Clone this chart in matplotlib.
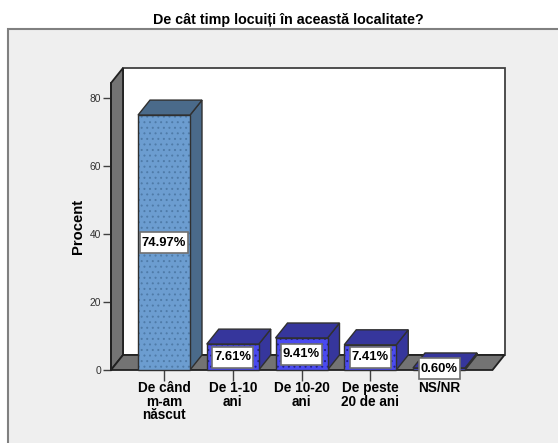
import numpy as np
import matplotlib
matplotlib.use("Agg")
import matplotlib.pyplot as plt
from matplotlib.patches import Rectangle

# --- data ---
CATEGORIES = ["De când\nm-am\nnăscut", "De 1-10\nani", "De 10-20\nani", "De peste\n20 de ani", "NS/NR"]
PERCENTS = [74.97, 7.61, 9.41, 7.41, 0.60]
Y_TICKS = [0, 20, 40, 60, 80]

# --- figure layout, in pixels of the 558x443 picture ---
W, H = 558, 443
AX_LEFT, AX_RIGHT = 111, 492.5
Y0_PX, Y80_PX = 370, 98
STEP_PX = 68.75
PX_PER_UNIT = (Y0_PX - Y80_PX) / 80
DEPTH_X = 12 / STEP_PX
DEPTH_Y = 15 / PX_PER_UNIT
BAR_W = 52 / STEP_PX
BOX_W = [48 / STEP_PX, 41 / STEP_PX, 41 / STEP_PX, 41 / STEP_PX, 41 / STEP_PX]
BOX_H = 21 / PX_PER_UNIT
EDGE = "#303030"
FONT_SIZE = 9.8

plt.rcParams["font.family"] = ["Liberation Sans", "DejaVu Sans"]
plt.rcParams["hatch.linewidth"] = 0.7

fig = plt.figure(figsize=(W / 100, H / 100), dpi=100, facecolor="white")

# grey chart panel, runs off the right and bottom of the picture
panel = Rectangle((8 / W, -20 / H), (W + 20) / W, (H - 29 + 20) / H, transform=fig.transFigure,
                  facecolor="#EFEFEF", edgecolor="#808080", linewidth=1.5, zorder=-1)
fig.add_artist(panel)

fig.text(288 / W, 1 - 20 / H, "De cât timp locuiți în această localitate?", ha="center", va="center",
         fontsize=10.25, fontweight="bold", color="black")

ax = fig.add_axes([AX_LEFT / W, 1 - Y0_PX / H, (AX_RIGHT - AX_LEFT) / W, (Y0_PX - 83) / H])
ax.patch.set_alpha(0)
first_center = 164
ax.set_xlim((AX_LEFT - first_center) / STEP_PX, (AX_RIGHT - first_center) / STEP_PX)
ax.set_ylim(0, (Y0_PX - 83) / PX_PER_UNIT)
x0, x1 = ax.get_xlim()
y1 = ax.get_ylim()[1]

# back wall, side wall and floor
ax.fill([x0 + DEPTH_X, x1 + DEPTH_X, x1 + DEPTH_X, x0 + DEPTH_X],
        [DEPTH_Y, DEPTH_Y, y1 + DEPTH_Y, y1 + DEPTH_Y],
        facecolor="white", edgecolor="#404040", linewidth=1.3, clip_on=False, zorder=1)
ax.fill([x0, x0 + DEPTH_X, x0 + DEPTH_X, x0], [0, DEPTH_Y, y1 + DEPTH_Y, y1],
        facecolor="#737373", edgecolor="#202020", linewidth=1.3, clip_on=False, zorder=2)
ax.fill([x0, x1, x1 + DEPTH_X, x0 + DEPTH_X], [0, 0, DEPTH_Y, DEPTH_Y],
        facecolor="#737373", edgecolor="#202020", linewidth=1.3, clip_on=False, zorder=2)

FRONT = ["#6C9DD0", "#4A4AF0", "#4A4AF0", "#4A4AF0", "#4A4AF0"]
SIDE = ["#4A6A8A", "#36369C", "#36369C", "#36369C", "#36369C"]
HATCH_COLOR = ["#4F7BA8", "#20208A", "#20208A", "#20208A", "#20208A"]

for i, val in enumerate(PERCENTS):
    l, r = i - BAR_W / 2, i + BAR_W / 2
    z = 3 + i
    ax.fill([r, r + DEPTH_X, r + DEPTH_X, r], [0, DEPTH_Y, val + DEPTH_Y, val],
            facecolor=SIDE[i], edgecolor=EDGE, linewidth=1.0, clip_on=False, zorder=z)
    ax.fill([l, r, r + DEPTH_X, l + DEPTH_X], [val, val, val + DEPTH_Y, val + DEPTH_Y],
            facecolor=SIDE[i], edgecolor=EDGE, linewidth=1.0, clip_on=False, zorder=z)
    ax.bar(i, val, BAR_W, color=FRONT[i], edgecolor=HATCH_COLOR[i], hatch="...", linewidth=0,
           clip_on=False, zorder=z)
    ax.bar(i, val, BAR_W, fill=False, edgecolor=EDGE, linewidth=1.0, clip_on=False, zorder=z)
    # value box, centred on the middle of the bar
    ax.add_patch(Rectangle((i - BOX_W[i] / 2, val / 2 - BOX_H / 2), BOX_W[i], BOX_H, facecolor="white",
                           edgecolor="#707070", linewidth=1.2, clip_on=False, zorder=19))
    ax.text(i, val / 2, f"{val:.2f}%", ha="center", va="center", fontsize=9.4,
            fontweight="bold", color="black", zorder=20, clip_on=False)

for side in ax.spines:
    ax.spines[side].set_visible(False)

ax.set_xticks(range(len(CATEGORIES)))
ax.set_xticklabels(CATEGORIES, fontsize=FONT_SIZE, fontweight="bold", linespacing=0.95)
ax.tick_params(axis="x", length=8, width=1.0, color="#404040", pad=0, bottom=True)
# NS/NR has no visible tick, the value box sits over it
ax.xaxis.get_major_ticks()[-1].tick1line.set_visible(False)

ax.set_yticks(Y_TICKS)
ax.tick_params(axis="y", length=6, width=1.0, color="#404040", labelsize=7.4, labelcolor="#303030", pad=1)
ax.spines["left"].set_visible(True)
ax.spines["left"].set_color("#202020")
ax.spines["left"].set_linewidth(1.3)
ax.spines["left"].set_zorder(3)

fig.text(78 / W, 1 - 226 / H, "Procent", rotation=90, ha="center", va="center", fontsize=10.6,
         fontweight="bold", color="black")

fig.savefig("out.png", dpi=100, facecolor="white")
